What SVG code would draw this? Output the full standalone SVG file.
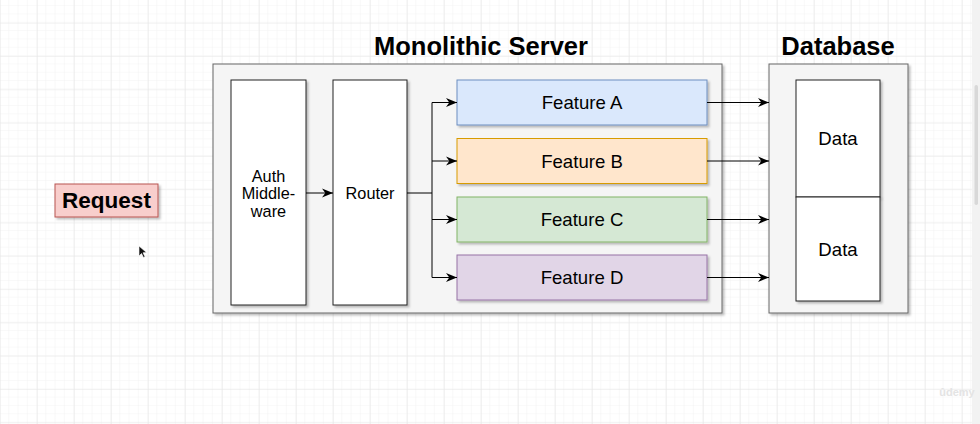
<svg xmlns="http://www.w3.org/2000/svg" width="980" height="424" viewBox="0 0 980 424">
<defs>
<pattern id="gmin" width="9.25" height="8.33" patternUnits="userSpaceOnUse" x="0" y="22.7">
<path d="M9.25 0V8.33M0 8.33H9.25" fill="none" stroke="#f3f3f3" stroke-width="1"/>
</pattern>
<pattern id="gmaj" width="37" height="33.3" patternUnits="userSpaceOnUse" x="0" y="22.7">
<path d="M0 0V33.3M0 0H37" fill="none" stroke="#e6e6e6" stroke-width="1"/>
</pattern>
<filter id="sh" x="-10%" y="-10%" width="130%" height="130%">
<feDropShadow dx="2" dy="2" stdDeviation="1" flood-color="#000" flood-opacity="0.25"/>
</filter>
<marker id="ah" viewBox="0 0 10 10" refX="10" refY="5" markerWidth="11" markerHeight="11" markerUnits="userSpaceOnUse" orient="auto">
<path d="M0 1L10 5L0 9L3 5Z" fill="#000"/>
</marker>
<style>
.t{font-family:"Liberation Sans",Arial,sans-serif;fill:#000;text-anchor:middle}
.lbl{font-size:16.3px}
.fl{font-size:18.6px}
.ttl{font-size:25.5px;font-weight:bold}
.cont{fill:#f5f5f5;stroke:#666;stroke-width:1}
.box{fill:#fff;stroke:#222;stroke-width:1}
.conn{fill:none;stroke:#000;stroke-width:1}
</style>
</defs>
<rect width="980" height="424" fill="#fff"/>
<rect width="980" height="424" fill="url(#gmin)"/>
<rect width="980" height="424" fill="url(#gmaj)"/>
<rect x="972" y="0" width="8" height="424" fill="#f2f2f2"/>
<rect x="974.5" y="85" width="3.5" height="120" rx="1.7" fill="#d8d8d8"/>

<text class="t ttl" x="481" y="55">Monolithic Server</text>
<text class="t ttl" x="838" y="55">Database</text>

<g id="request">
<rect x="55" y="184" width="103" height="33" fill="#f8cecc" stroke="#b85450" filter="url(#sh)"/>
<text class="t" x="106.5" y="208" font-size="22.5" font-weight="bold">Request</text>
</g>

<g id="monolithic-server">
<rect class="cont" x="213" y="64" width="509" height="249" filter="url(#sh)"/>
</g>
<g id="auth">
<rect class="box" x="231" y="80" width="75" height="225" filter="url(#sh)"/>
<text class="t lbl" x="268.5" y="181.5">Auth</text>
<text class="t lbl" x="268.5" y="199">Middle-</text>
<text class="t lbl" x="268.5" y="217">ware</text>
</g>
<g id="router">
<rect class="box" x="333" y="80" width="74" height="225" filter="url(#sh)"/>
<text class="t lbl" x="370" y="199">Router</text>
</g>
<g id="feature-a">
<rect x="457" y="80" width="250" height="45" fill="#dae8fc" stroke="#6c8ebf" filter="url(#sh)"/>
<text class="t fl" x="582" y="109">Feature A</text>
</g>
<g id="feature-b">
<rect x="457" y="138.5" width="250" height="45" fill="#ffe6cc" stroke="#d79b00" filter="url(#sh)"/>
<text class="t fl" x="582" y="167.5">Feature B</text>
</g>
<g id="feature-c">
<rect x="457" y="197" width="250" height="45" fill="#d5e8d4" stroke="#82b366" filter="url(#sh)"/>
<text class="t fl" x="582" y="226">Feature C</text>
</g>
<g id="feature-d">
<rect x="457" y="255" width="250" height="45" fill="#e1d5e7" stroke="#9673a6" filter="url(#sh)"/>
<text class="t fl" x="582" y="284">Feature D</text>
</g>

<g id="database">
<rect class="cont" x="769" y="64" width="139" height="249" filter="url(#sh)"/>
</g>
<g id="data-1">
<rect class="box" x="796" y="80" width="84" height="117" filter="url(#sh)"/>
<text class="t fl" x="838" y="144.5">Data</text>
</g>
<g id="data-2">
<rect class="box" x="796" y="197" width="84" height="104" filter="url(#sh)"/>
<text class="t fl" x="838" y="255.5">Data</text>
</g>

<g id="connectors">
<path class="conn" d="M306 193H333" marker-end="url(#ah)"/>
<path class="conn" d="M407 193H432V102.5H457" marker-end="url(#ah)"/>
<path class="conn" d="M432 161H457" marker-end="url(#ah)"/>
<path class="conn" d="M432 193V219.5H457" marker-end="url(#ah)"/>
<path class="conn" d="M432 219.5V277.5H457" marker-end="url(#ah)"/>
<path class="conn" d="M707 102.5H769" marker-end="url(#ah)"/>
<path class="conn" d="M707 161H769" marker-end="url(#ah)"/>
<path class="conn" d="M707 219.5H769" marker-end="url(#ah)"/>
<path class="conn" d="M707 277.5H769" marker-end="url(#ah)"/>
</g>

<path d="M139 246L139 256L141.5 253.5L143.5 257.5L145 256.7L143 252.8L146.5 252.5Z" fill="#111" stroke="#fff" stroke-width="0.6"/>
<text x="957" y="396" font-family="Liberation Sans,Arial,sans-serif" font-size="11" fill="#e4e4e4" text-anchor="middle" font-weight="bold">ûdemy</text>
</svg>
